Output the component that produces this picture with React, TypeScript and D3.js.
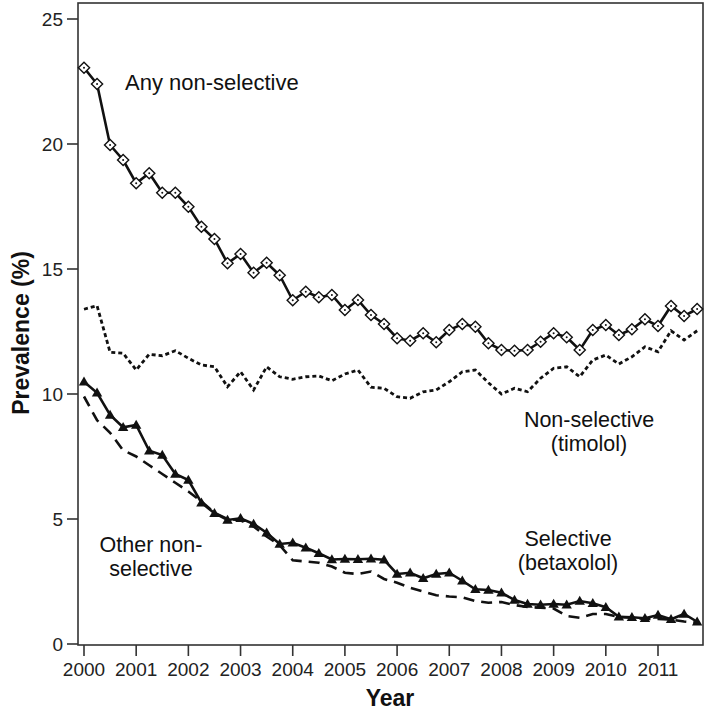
import React from "react";
import * as d3 from "d3";

const years = [2000, 2001, 2002, 2003, 2004, 2005, 2006, 2007, 2008, 2009, 2010, 2011];
const yTicks = [0, 5, 10, 15, 20, 25];

const anyNonSelective = [23.05, 22.4, 19.96, 19.36, 18.43, 18.83, 18.05, 18.05, 17.49, 16.69,
  16.2, 15.23, 15.6, 14.85, 15.25, 14.75, 13.75, 14.09, 13.87, 13.96,
  13.36, 13.76, 13.16, 12.8, 12.23, 12.13, 12.43, 12.07, 12.56, 12.8,
  12.69, 12.03, 11.76, 11.73, 11.76, 12.09, 12.43, 12.27, 11.76, 12.56,
  12.76, 12.36, 12.59, 12.99, 12.72, 13.52, 13.12, 13.4];

const timolol = [13.39, 13.53, 11.67, 11.63, 10.96, 11.59, 11.53, 11.73, 11.43, 11.16,
  11.09, 10.29, 10.89, 10.16, 11.09, 10.69, 10.59, 10.69, 10.72, 10.53,
  10.8, 10.96, 10.27, 10.23, 9.89, 9.83, 10.09, 10.16, 10.49, 10.89,
  10.96, 10.45, 10.0, 10.23, 10.09, 10.63, 11.03, 11.09, 10.69, 11.36,
  11.56, 11.2, 11.49, 11.89, 11.69, 12.53, 12.16, 12.53];

const betaxolol = [10.49, 10.05, 9.16, 8.67, 8.76, 7.73, 7.56, 6.8, 6.56, 5.65,
  5.23, 4.96, 5.03, 4.8, 4.45, 4.0, 4.05, 3.85, 3.63, 3.38,
  3.4, 3.39, 3.41, 3.37, 2.8, 2.85, 2.63, 2.8, 2.85, 2.53,
  2.19, 2.16, 2.05, 1.76, 1.6, 1.57, 1.6, 1.57, 1.72, 1.63,
  1.47, 1.09, 1.07, 1.03, 1.16, 0.99, 1.2, 0.89];

const otherNonSelective = [9.9, 8.95, 8.45, 7.75, 7.5, 7.15, 6.8, 6.45, 6.1, 5.7,
  5.25, 5.0, 4.95, 4.7, 4.3, 3.95, 3.35, 3.3, 3.25, 3.1,
  2.85, 2.8, 2.9, 2.6, 2.45, 2.25, 2.1, 1.95, 1.9, 1.87,
  1.72, 1.65, 1.68, 1.56, 1.48, 1.45, 1.42, 1.12, 1.05, 1.2,
  1.2, 1.08, 1.05, 1.0, 1.0, 0.98, 0.9, 0.85];

const quarters = years.flatMap((y) => [y, y + 0.25, y + 0.5, y + 0.75]);

const FONT = "'Liberation Sans', Arial, sans-serif";

export default function App() {
  const W = 709, H = 714;
  const box = { left: 78, right: 703, top: 3, bottom: 645 };
  const x = d3.scaleLinear().domain([2000, 2011]).range([84, 658]);
  const y = d3.scaleLinear().domain([0, 25]).range([644, 19]);

  const line = d3.line<number>()
    .x((_, i) => x(quarters[i]))
    .y((d) => y(d));

  const diamondPath = (cx: number, cy: number) => {
    const r = 5.6;
    return `M${cx},${cy - r}L${cx + r},${cy}L${cx},${cy + r}L${cx - r},${cy}Z`;
  };
  const triPath = (cx: number, cy: number) => {
    const r = 5.2;
    return `M${cx},${cy - r}L${cx + r},${cy + r * 0.7}L${cx - r},${cy + r * 0.7}Z`;
  };

  return (
    <svg width={W} height={H} style={{ position: "absolute", left: 0, top: 0 }} fontFamily={FONT}>
      <rect x={0} y={0} width={W} height={H} fill="#fff" />
      <rect x={box.left} y={box.top} width={box.right - box.left} height={box.bottom - box.top}
        fill="none" stroke="#333" strokeWidth={1.6} />
      {yTicks.map((t) => (
        <g key={"y" + t}>
          <line x1={box.left - 11} x2={box.left} y1={y(t)} y2={y(t)} stroke="#333" strokeWidth={1.6} />
          <text x={box.left - 15} y={y(t)} dy="0.35em" textAnchor="end" fontSize={19} fill="#222">{t}</text>
        </g>
      ))}
      {years.map((t) => (
        <g key={"x" + t}>
          <line x1={x(t)} x2={x(t)} y1={box.bottom} y2={box.bottom + 11} stroke="#333" strokeWidth={1.6} />
          <text x={x(t)} y={676} textAnchor="middle" fontSize={19} fill="#222">{t}</text>
        </g>
      ))}
      <text x={390} y={706} textAnchor="middle" fontSize={23} fontWeight="bold" fill="#111">Year</text>
      <text transform={`translate(29,333) rotate(-90)`} textAnchor="middle" fontSize={23} fontWeight="bold" fill="#111">Prevalence (%)</text>

      <path d={line(timolol) || ""} fill="none" stroke="#111" strokeWidth={2.8} strokeDasharray="4,3" />
      <path d={line(otherNonSelective) || ""} fill="none" stroke="#111" strokeWidth={2.6} strokeDasharray="11,7" />
      <path d={line(betaxolol) || ""} fill="none" stroke="#111" strokeWidth={2.6} />
      <path d={line(anyNonSelective) || ""} fill="none" stroke="#111" strokeWidth={2.6} />

      {betaxolol.map((v, i) => (
        <path key={"t" + i} d={triPath(x(quarters[i]), y(v))} fill="#111" />
      ))}
      {anyNonSelective.map((v, i) => (
        <path key={"d" + i} d={diamondPath(x(quarters[i]), y(v))} fill="#fff" stroke="#111" strokeWidth={1.4} />
      ))}
      {anyNonSelective.map((v, i) => (
        <circle key={"c" + i} cx={x(quarters[i])} cy={y(v)} r={1} fill="#111" />
      ))}

      <text x={125} y={90} fontSize={22} fill="#111">Any non-selective</text>
      <text x={589} y={427} textAnchor="middle" fontSize={21.5} fill="#111">Non-selective</text>
      <text x={589} y={451} textAnchor="middle" fontSize={21.5} fill="#111">(timolol)</text>
      <text x={568} y={546} textAnchor="middle" fontSize={21.5} fill="#111">Selective</text>
      <text x={568} y={570} textAnchor="middle" fontSize={21.5} fill="#111">(betaxolol)</text>
      <text x={151} y={552} textAnchor="middle" fontSize={21.5} fill="#111">Other non-</text>
      <text x={151} y={576} textAnchor="middle" fontSize={21.5} fill="#111">selective</text>
    </svg>
  );
}
